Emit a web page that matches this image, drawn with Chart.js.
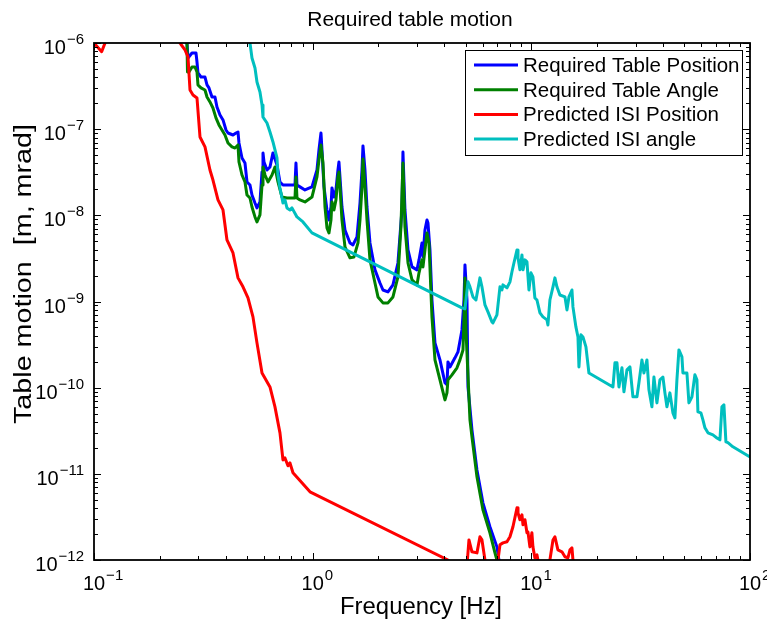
<!DOCTYPE html>
<html>
<head>
<meta charset="utf-8">
<script src="https://cdn.jsdelivr.net/npm/chart.js@4"></script>
<style>
html, body { margin: 0; padding: 0; background: #fff; }
</style>
</head>
<body>
<canvas id="motion" width="767" height="626"></canvas>
<script>
// [frequency Hz, amplitude]
var tablePosition = [
  [0.26, 1.4e-6], [0.2662, 1e-6], [0.2691, 6.70e-7], [0.2806, 7.66e-7], [0.2927, 7.66e-7], [0.2958, 6.02e-7],
  [0.2989, 4.49e-7], [0.3085, 4.03e-7], [0.3218, 4.03e-7], [0.3287, 3.26e-7], [0.3356, 3.01e-7], [0.3464, 2.36e-7],
  [0.3575, 2.36e-7], [0.3651, 1.81e-7], [0.3769, 1.46e-7], [0.3890, 1.28e-7], [0.4015, 9.79e-8], [0.4100, 9.03e-8],
  [0.4322, 8.56e-8], [0.4460, 9.03e-8], [0.4555, 9.28e-8], [0.4603, 6.92e-8], [0.4751, 4.63e-8], [0.4903, 4.05e-8],
  [0.5008, 2.44e-8], [0.5168, 2.25e-8], [0.5278, 1.72e-8], [0.5448, 1.39e-8], [0.5563, 1.22e-8], [0.5741, 1.43e-8],
  [0.5866, 3.19e-8], [0.5927, 5.30e-8], [0.5990, 4.16e-8], [0.6182, 3.36e-8], [0.6379, 3.64e-8], [0.6584, 5.30e-8],
  [0.6868, 3.84e-8], [0.7087, 2.44e-8], [0.7314, 2.25e-8], [0.7874, 2.25e-8], [0.8300, 2.25e-8], [0.8388, 4.05e-8],
  [0.8477, 2.25e-8], [0.8748, 2.14e-8], [0.9222, 1.97e-8], [0.9926, 2.14e-8], [1.0464, 3.36e-8], [1.0686, 5.74e-8],
  [1.0914, 9.03e-8], [1.1030, 5.74e-8], [1.1265, 2.14e-8], [1.1626, 1.155e-8], [1.1873, 8.84e-9], [1.2126, 1.25e-8],
  [1.2254, 2.08e-8], [1.2515, 1.63e-8], [1.2780, 1.97e-8], [1.3052, 3.36e-8], [1.3190, 4.16e-8], [1.3330, 2.79e-8],
  [1.3614, 1.25e-8], [1.4051, 6.77e-9], [1.4813, 4.78e-9], [1.5288, 4.54e-9], [1.5947, 5.62e-9], [1.6459, 1.39e-8],
  [1.6808, 3.36e-8], [1.6985, 6.39e-8], [1.7346, 3.36e-8], [1.7716, 1.25e-8], [1.8285, 4.78e-9], [1.9275, 2.33e-9],
  [2.0315, 1.64e-9], [2.0965, 1.36e-9], [2.2098, 1.29e-9], [2.3292, 1.56e-9], [2.4547, 2.80e-9], [2.5604, 1.155e-8],
  [2.5876, 5.44e-8], [2.6430, 1.155e-8], [2.7287, 3.97e-9], [2.8461, 2.52e-9], [3.0000, 2.33e-9], [3.0641, 3.04e-9],
  [3.1614, 4.78e-9], [3.1948, 3.29e-9], [3.2626, 6.77e-9], [3.3321, 8.84e-9], [3.3673, 8.16e-9], [3.4391, 3.97e-9],
  [3.5121, 1.04e-9], [3.6249, 3.31e-10], [3.8207, 2.10e-10], [4.0272, 1.14e-10], [4.1128, 1.08e-10], [4.1563, 1.99e-10],
  [4.2447, 1.74e-10], [4.4749, 2.22e-10], [4.6184, 2.60e-10], [4.8170, 4.68e-10], [4.9199, 1.04e-9], [4.9718, 2.66e-9],
  [5.0780, 1.04e-9], [5.1320, 1.02e-10], [5.3514, 3.24e-11], [5.6405, 1.11e-11], [6.0067, 4.61e-12], [6.4660, 2.43e-12],
  [6.9599, 1.42e-12], [7.1107, 1e-12], [7.35, 6e-13]
];

var tableAngle = [
  [0.26, 1.4e-6], [0.2662, 1e-6], [0.2676, 4.61e-7], [0.2719, 4.61e-7], [0.2806, 5.27e-7], [0.2896, 5.27e-7],
  [0.2958, 4.61e-7], [0.2989, 3.26e-7], [0.3085, 3.01e-7], [0.3218, 2.85e-7], [0.3287, 2.36e-7], [0.3391, 2.07e-7],
  [0.3500, 1.76e-7], [0.3612, 1.35e-7], [0.3728, 1.12e-7], [0.3848, 9.79e-8], [0.3972, 8.56e-8], [0.4100, 6.92e-8],
  [0.4276, 6.22e-8], [0.4413, 6.05e-8], [0.4555, 6.56e-8], [0.4603, 4.16e-8], [0.4751, 2.94e-8], [0.4903, 2.44e-8],
  [0.5008, 1.72e-8], [0.5168, 1.59e-8], [0.5278, 1.25e-8], [0.5448, 9.58e-9], [0.5563, 8.38e-9], [0.5741, 1.01e-8],
  [0.5866, 2.25e-8], [0.5927, 3.64e-8], [0.6053, 2.94e-8], [0.6248, 2.44e-8], [0.6516, 2.94e-8], [0.6723, 3.64e-8],
  [0.6940, 2.44e-8], [0.7239, 1.63e-8], [0.7629, 1.59e-8], [0.8300, 1.59e-8], [0.8388, 2.79e-8], [0.8477, 1.59e-8],
  [0.8748, 1.51e-8], [0.9222, 1.43e-8], [0.9926, 1.63e-8], [1.0464, 2.79e-8], [1.0686, 4.39e-8], [1.0914, 6.56e-8],
  [1.1146, 4.05e-8], [1.1385, 1.25e-8], [1.1626, 7.14e-9], [1.1873, 6.25e-9], [1.2126, 8.84e-9], [1.2254, 1.43e-8],
  [1.2515, 1.155e-8], [1.2780, 1.51e-8], [1.3052, 2.79e-8], [1.3190, 3.19e-8], [1.3330, 2.14e-8], [1.3614, 8.84e-9],
  [1.4051, 4.30e-9], [1.4813, 3.21e-9], [1.5450, 3.29e-9], [1.6117, 4.78e-9], [1.6459, 8.84e-9], [1.6808, 2.14e-8],
  [1.6985, 4.51e-8], [1.7346, 2.14e-8], [1.7716, 8.84e-9], [1.8285, 3.04e-9], [1.9275, 1.64e-9], [1.9891, 1.13e-9],
  [2.0965, 9.63e-10], [2.2098, 9.63e-10], [2.3292, 1.13e-9], [2.4547, 1.93e-9], [2.5335, 7.33e-9], [2.5876, 4.05e-8],
  [2.6430, 7.33e-9], [2.7287, 2.80e-9], [2.8461, 1.78e-9], [3.0000, 1.56e-9], [3.0641, 2.15e-9], [3.1614, 3.04e-9],
  [3.1948, 2.52e-9], [3.2626, 3.97e-9], [3.3321, 6.25e-9], [3.4029, 4.78e-9], [3.5121, 6.63e-10], [3.6249, 2.10e-10],
  [3.8207, 1.23e-10], [4.0272, 7.22e-11], [4.1128, 8.70e-11], [4.1563, 1.23e-10], [4.3356, 1.41e-10], [4.5697, 1.70e-10],
  [4.7162, 2.10e-10], [4.8686, 2.74e-10], [4.92, 6.12e-10], [4.9718, 1.88e-9], [5.0234, 4.68e-10], [5.078, 2.53e-10],
  [5.2405, 4.23e-11], [5.3514, 2.69e-11], [5.6405, 9.23e-12], [6.0067, 3.82e-12], [6.4660, 2.07e-12], [6.8185, 1.21e-12],
  [6.96, 1e-12], [7.19, 6e-13]
];

var isiPosition = [
  [0.1, 1e-6], [0.1084, 7.93e-7], [0.1123, 1e-6], [0.115, 1.3e-6], [0.245, 1.3e-6], [0.2473, 1e-6],
  [0.2607, 8.30e-7], [0.2691, 6.88e-7], [0.2748, 2.85e-7], [0.2836, 2.49e-7], [0.2958, 2.30e-7], [0.3053, 8.12e-8],
  [0.3218, 6.22e-8], [0.3391, 3.36e-8], [0.3500, 2.57e-8], [0.3690, 1.51e-8], [0.3890, 1.155e-8], [0.4056, 5.18e-9],
  [0.4322, 3.66e-9], [0.4555, 1.88e-9], [0.4801, 1.48e-9], [0.5061, 1.10e-9], [0.5333, 6.63e-10], [0.5563, 3.31e-10],
  [0.5866, 1.48e-10], [0.6379, 1.02e-10], [0.6723, 5.99e-11], [0.7087, 2.99e-11], [0.7314, 1.45e-11], [0.7469, 1.53e-11],
  [0.7709, 1.24e-11], [0.7874, 1.34e-11], [0.8127, 1.03e-11], [0.9721, 6.18e-12], [4.156, 1e-12], [4.868, 6e-13],
  [5.023, 6e-13], [5.185, 1.71e-12], [5.351, 1.245e-12], [5.640, 1.21e-12], [5.821, 1.86e-12], [5.945, 1.71e-12],
  [6.137, 1e-12], [6.266, 6e-13], [6.89, 6e-13], [7.04, 1e-12], [7.187, 1.50e-12], [7.418, 1.58e-12],
  [7.737, 1.63e-12], [7.985, 1.86e-12], [8.24, 2.43e-12], [8.60, 4.03e-12], [8.69, 3.53e-12], [8.87, 2.93e-12],
  [9.06, 3.34e-12], [9.16, 2.56e-12], [9.35, 2.93e-12], [9.55, 2.07e-12], [9.65, 2.12e-12], [9.85, 1.42e-12],
  [10.06, 2.07e-12], [10.17, 1.42e-12], [10.38, 1.06e-12], [10.61, 1.15e-12], [10.72, 1e-12], [10.95, 6e-13],
  [11.91, 6e-13], [12.16, 1e-12], [12.56, 1.71e-12], [12.82, 1.86e-12], [13.23, 1.31e-12], [13.80, 1.245e-12],
  [14.25, 1.09e-12], [14.70, 1.06e-12], [15.02, 1.31e-12], [15.34, 1.38e-12], [15.50, 1e-12], [15.83, 6e-13]
];

var isiAngle = [
  [0.5061, 1.3e-6], [0.5168, 1e-6], [0.5278, 6.70e-7], [0.5448, 5.13e-7], [0.5563, 3.53e-7], [0.5741, 2.70e-7],
  [0.5866, 1.91e-7], [0.5927, 1.38e-7], [0.6182, 1.18e-7], [0.6379, 9.28e-8], [0.6584, 7.10e-8], [0.6868, 4.63e-8],
  [0.6940, 2.94e-8], [0.7087, 2.08e-8], [0.7239, 1.59e-8], [0.7314, 1.39e-8], [0.7469, 1.51e-8], [0.7629, 1.22e-8],
  [0.7874, 1.155e-8], [0.8041, 1.22e-8], [0.8477, 9.58e-9], [0.9030, 8.38e-9], [0.9926, 6.25e-9], [4.817, 8.43e-10],
  [4.9718, 8.21e-10], [5.132, 1.69e-9], [5.2405, 1.48e-9], [5.4079, 1.13e-9], [5.5810, 1.04e-9], [5.821, 1.88e-9],
  [5.945, 1.48e-9], [6.137, 9.13e-10], [6.3335, 7.57e-10], [6.6055, 5.80e-10], [6.676, 5.65e-10], [6.9599, 6.99e-10],
  [7.187, 1.48e-9], [7.3387, 1.36e-9], [7.418, 1.56e-9], [7.737, 1.44e-9], [7.985, 1.69e-9], [8.150, 2.20e-9],
  [8.325, 2.80e-9], [8.60, 3.97e-9], [8.69, 3.21e-9], [8.87, 2.33e-9], [9.06, 3.47e-9], [9.16, 2.33e-9],
  [9.35, 3.04e-9], [9.55, 2.88e-9], [9.752, 1.36e-9], [9.959, 2.15e-9], [10.17, 1.93e-9], [10.38, 1.10e-9],
  [10.61, 1.04e-9], [10.95, 7.37e-10], [11.30, 6.63e-10], [11.79, 6.12e-10], [11.91, 5.35e-10], [12.16, 1.04e-9],
  [12.56, 1.48e-9], [12.82, 1.88e-9], [13.09, 1.48e-9], [13.51, 1.19e-9], [14.25, 1.13e-9], [14.55, 7.99e-10],
  [14.86, 1.13e-9], [15.34, 1.36e-9], [15.50, 8.66e-10], [15.99, 5.07e-10], [16.34, 3.88e-10], [16.51, 1.74e-10],
  [16.86, 4.10e-10], [17.22, 3.88e-10], [17.77, 2.97e-10], [18.34, 1.48e-10], [23.62, 1.02e-10], [24.12, 1.94e-10],
  [24.64, 1.94e-10], [25.16, 1.02e-10], [25.97, 1.70e-10], [26.52, 8.94e-11], [27.37, 1.61e-10], [28.25, 1.74e-10],
  [29.15, 7.82e-11], [30.41, 7.82e-11], [31.05, 1.14e-10], [32.05, 2.10e-10], [32.73, 1.48e-10], [33.78, 2.10e-10],
  [34.50, 9.43e-11], [35.60, 5.99e-11], [36.36, 1.33e-10], [37.53, 6.66e-11], [38.73, 1.23e-10], [39.97, 1.33e-10],
  [40.82, 8.70e-11], [41.69, 5.99e-11], [43.03, 8.70e-11], [44.41, 5.10e-11], [45.36, 4.46e-11], [46.32, 1.23e-10],
  [47.31, 2.74e-10], [48.83, 2.28e-10], [49.35, 1.48e-10], [51.47, 1.48e-10], [52.56, 6.66e-11], [54.25, 7.82e-11],
  [55.98, 1.41e-10], [57.18, 1.23e-10], [57.79, 5.24e-11], [59.65, 5.10e-11], [60.92, 4.23e-11], [62.22, 3.42e-11],
  [64.22, 2.99e-11], [67.68, 2.83e-11], [70.59, 2.61e-11], [72.85, 2.48e-11], [74.40, 5.99e-11], [75.98, 6.32e-11],
  [77.60, 2.35e-11], [79.25, 2.30e-11], [83.53, 2.06e-11], [100, 1.57e-11]
];

var seriesLabels = ['Required Table Position', 'Required Table Angle', 'Predicted ISI Position', 'Predicted ISI angle'];
var seriesColors = ['rgb(0, 0, 255)', 'rgb(0, 128, 0)', 'rgb(255, 0, 0)', 'rgb(0, 191, 191)'];
var xMajor = [0.1, 1, 10, 100];
var yMajor = [1e-12, 1e-11, 1e-10, 1e-9, 1e-8, 1e-7, 1e-6];

var FONT = '"Liberation Sans", Arial, Helvetica, sans-serif';

function toPoints(list) {
  return list.map(function (p) { return { x: p[0], y: p[1] }; });
}

function minorsOf(majors) {
  var out = [];
  for (var i = 0; i < majors.length - 1; i++) {
    for (var k = 2; k <= 9; k++) out.push(majors[i] * k);
  }
  return out;
}

// "10" with the exponent as superscript
function powerLabel(ctx, exp, x, y, align) {
  var base = '10';
  var sup = String(exp).replace('-', '\u2212');
  ctx.font = '20px ' + FONT;
  var bw = ctx.measureText(base).width;
  ctx.font = '15px ' + FONT;
  var sw = ctx.measureText(sup).width;
  var bx = align === 'right' ? x - sw - bw - 1 : x - bw / 2;
  ctx.textAlign = 'left';
  ctx.textBaseline = 'alphabetic';
  ctx.font = '20px ' + FONT;
  ctx.fillText(base, bx, y);
  ctx.font = '15px ' + FONT;
  ctx.fillText(sup, bx + bw + 1, y - 10);
}

// text stretched to a given width (the original labels run wide)
function wideText(ctx, text, cx, y, width) {
  var w = ctx.measureText(text).width;
  ctx.save();
  ctx.translate(cx, y);
  ctx.scale(width / w, 1);
  ctx.textAlign = 'center';
  ctx.fillText(text, 0, 0);
  ctx.restore();
}

var matlabFrame = {
  id: 'matlabFrame',
  afterDraw: function (chart) {
    var ctx = chart.ctx;
    var a = chart.chartArea;
    var xs = chart.scales.x, ys = chart.scales.y;
    ctx.save();
    ctx.strokeStyle = '#000';
    ctx.fillStyle = '#000';
    ctx.lineWidth = 1.8;
    ctx.strokeRect(a.left, a.top, a.right - a.left, a.bottom - a.top);

    ctx.lineWidth = 1;
    function xTick(v, len) {
      var px = Math.round(xs.getPixelForValue(v)) + 0.5;
      ctx.beginPath();
      ctx.moveTo(px, a.bottom); ctx.lineTo(px, a.bottom - len);
      ctx.moveTo(px, a.top); ctx.lineTo(px, a.top + len);
      ctx.stroke();
    }
    function yTick(v, len) {
      var py = Math.round(ys.getPixelForValue(v)) + 0.5;
      ctx.beginPath();
      ctx.moveTo(a.left, py); ctx.lineTo(a.left + len, py);
      ctx.moveTo(a.right, py); ctx.lineTo(a.right - len, py);
      ctx.stroke();
    }
    minorsOf(xMajor).forEach(function (v) { xTick(v, 4); });
    xMajor.forEach(function (v) { xTick(v, 7); });
    minorsOf(yMajor).forEach(function (v) { yTick(v, 4); });
    yMajor.forEach(function (v) { yTick(v, 7); });

    xMajor.forEach(function (v) {
      powerLabel(ctx, Math.round(Math.log10(v)), xs.getPixelForValue(v), a.bottom + 30, 'center');
    });
    yMajor.forEach(function (v) {
      powerLabel(ctx, Math.round(Math.log10(v)), a.left - 10, ys.getPixelForValue(v) + 11, 'right');
    });

    // title and axis labels
    ctx.textBaseline = 'alphabetic';
    ctx.font = '21px ' + FONT;
    ctx.textAlign = 'center';
    ctx.fillText('Required table motion', 410, 26);
    ctx.font = '23px ' + FONT;
    wideText(ctx, 'Frequency [Hz]', 421, 614, 162);
    ctx.save();
    ctx.translate(31, 274);
    ctx.rotate(-Math.PI / 2);
    wideText(ctx, 'Table motion  [m, mrad]', 0, 0, 300);
    ctx.restore();

    // legend box inside the axes
    var lx = 465.5, ly = 50.5, lw = 277, lh = 105;
    ctx.fillStyle = '#fff';
    ctx.fillRect(lx, ly, lw, lh);
    ctx.strokeStyle = '#000';
    ctx.lineWidth = 1;
    ctx.strokeRect(lx, ly, lw, lh);
    ctx.textAlign = 'left';
    ctx.font = '20.5px ' + FONT;
    seriesLabels.forEach(function (label, i) {
      var ry = 65 + i * 24.7;
      ctx.strokeStyle = seriesColors[i];
      ctx.lineWidth = 3;
      ctx.beginPath();
      ctx.moveTo(474, ry); ctx.lineTo(518, ry);
      ctx.stroke();
      ctx.fillStyle = '#000';
      ctx.fillText(label, 523, ry + 7);
    });
    ctx.restore();
  }
};

var seriesData = [tablePosition, tableAngle, isiPosition, isiAngle];

new Chart(document.getElementById('motion').getContext('2d'), {
  type: 'line',
  data: {
    datasets: seriesData.map(function (list, i) {
      return {
        label: seriesLabels[i],
        data: toPoints(list),
        borderColor: seriesColors[i],
        borderWidth: 3,
        borderJoinStyle: 'round',
        pointRadius: 0,
        fill: false,
        tension: 0,
        order: 4 - i
      };
    })
  },
  options: {
    responsive: false,
    animation: false,
    layout: { padding: { left: 94, right: 17, top: 43, bottom: 66 } },
    plugins: {
      legend: { display: false },
      tooltip: { enabled: false },
      title: { display: false }
    },
    scales: {
      x: { type: 'logarithmic', min: 0.1, max: 100, display: false },
      y: { type: 'logarithmic', min: 1e-12, max: 1e-6, display: false }
    }
  },
  plugins: [matlabFrame]
});
</script>
</body>
</html>
